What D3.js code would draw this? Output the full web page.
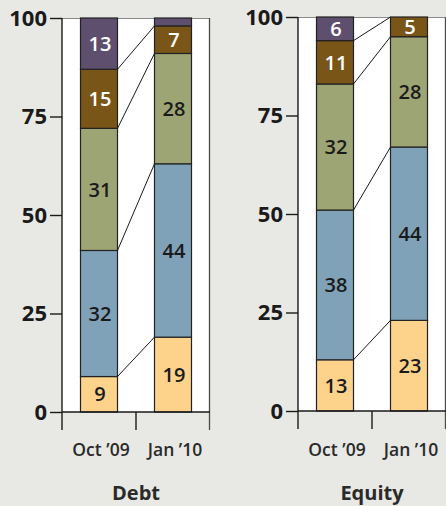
<!DOCTYPE html>
<html>
<head>
<meta charset="utf-8">
<script src="https://cdn.jsdelivr.net/npm/d3@7"></script>
<style>
  html, body { margin: 0; padding: 0; background: #e8e8e4; }
  svg { display: block; }
  text { font-family: "Open Sans", "Noto Sans", sans-serif; font-weight: 600; fill: #1a1a1a; }
</style>
</head>
<body>
<svg id="chart" width="446" height="506"></svg>
<script>
// Periods on the x axis of each panel
const periods = ["Oct \u201909", "Jan \u201910"];
// Panel titles
const panelNames = ["Debt", "Equity"];
// Stacked shares (bottom to top) for each period, in percent
const debtValues = [
  [9, 32, 31, 15, 13],
  [19, 44, 28, 7, 2]
];
const equityValues = [
  [13, 38, 32, 11, 6],
  [23, 44, 28, 5, 0]
];
// y-axis tick values
const yTicks = [0, 25, 50, 75, 100];
// Segment fills, bottom to top, and the label colour on each
const segmentColors = ["#fdd28b", "#7fa2b8", "#9ea574", "#7a5518", "#5e4f6e"];
const labelColors = ["#1a1a1a", "#1a1a1a", "#1a1a1a", "#ffffff", "#ffffff"];

const svg = d3.select("#chart");

const panels = [
  { name: panelNames[0], values: debtValues, left: 62, top: 18, bottom: 412 },
  { name: panelNames[1], values: equityValues, left: 298, top: 17, bottom: 411 }
];
const plotWidth = 148;
const tickBelow = 18;

panels.forEach(p => {
  const g = svg.append("g").attr("transform", `translate(${p.left},0)`);

  const x = d3.scaleBand().domain(periods).range([0, plotWidth])
    .paddingInner(0.5).paddingOuter(0.25);
  const y = d3.scaleLinear().domain([0, 100]).range([p.bottom, p.top]);

  // white plot area
  g.append("rect")
    .attr("x", 0).attr("y", p.top)
    .attr("width", plotWidth).attr("height", p.bottom - p.top)
    .attr("fill", "#ffffff");

  // top and right frame lines
  g.append("line")
    .attr("x1", 0).attr("x2", plotWidth)
    .attr("y1", p.top + 0.5).attr("y2", p.top + 0.5)
    .attr("stroke", "#8a8a8a").attr("stroke-width", 1);
  g.append("line")
    .attr("x1", plotWidth - 0.5).attr("x2", plotWidth - 0.5)
    .attr("y1", p.top).attr("y2", p.bottom + tickBelow)
    .attr("stroke", "#4a4a4a").attr("stroke-width", 1.3);

  // stacked segments
  const stacks = p.values.map(vals => {
    let acc = 0;
    return vals.map(v => { const s = { y0: acc, y1: acc + v, v }; acc += v; return s; });
  });

  // connector lines between matching segment boundaries
  const [a, b] = stacks;
  for (let i = 0; i < a.length - 1; i++) {
    g.append("line")
      .attr("x1", x(periods[0]) + x.bandwidth())
      .attr("y1", y(a[i].y1))
      .attr("x2", x(periods[1]))
      .attr("y2", y(b[i].y1))
      .attr("stroke", "#1a1a1a").attr("stroke-width", 1);
  }

  stacks.forEach((segs, pi) => {
    const bx = x(periods[pi]);
    segs.forEach((s, si) => {
      if (s.v <= 0) return;
      g.append("rect")
        .attr("x", bx).attr("y", y(s.y1))
        .attr("width", x.bandwidth()).attr("height", y(s.y0) - y(s.y1))
        .attr("fill", segmentColors[si])
        .attr("stroke", "#222").attr("stroke-width", 1.2);
      if (s.v >= 5) {
        g.append("text")
          .attr("x", bx + x.bandwidth() / 2 + 1)
          .attr("y", y((s.y0 + s.y1) / 2))
          .attr("dy", "0.36em")
          .attr("text-anchor", "middle")
          .attr("font-size", 20)
          .style("fill", labelColors[si])
          .text(s.v);
      }
    });
  });

  // y axis
  const yAxis = g.append("g")
    .call(d3.axisLeft(y).tickValues(yTicks).tickSize(12).tickPadding(3));
  yAxis.select(".domain").remove();
  yAxis.selectAll(".tick line").attr("stroke", "#1a1a1a").attr("stroke-width", 1.4);
  yAxis.selectAll(".tick text")
    .style("font-size", "22px")
    .style("font-family", "'Open Sans', sans-serif")
    .style("font-weight", 700)
    .style("fill", "#1a1a1a");

  g.append("line")
    .attr("x1", 0).attr("x2", 0)
    .attr("y1", p.top).attr("y2", p.bottom + tickBelow)
    .attr("stroke", "#1a1a1a").attr("stroke-width", 1.4);

  // x axis baseline with boundary ticks
  g.append("line")
    .attr("x1", 0).attr("x2", plotWidth)
    .attr("y1", p.bottom).attr("y2", p.bottom)
    .attr("stroke", "#1a1a1a").attr("stroke-width", 1.4);
  g.append("line")
    .attr("x1", x.step()).attr("x2", x.step())
    .attr("y1", p.bottom).attr("y2", p.bottom + tickBelow)
    .attr("stroke", "#1a1a1a").attr("stroke-width", 1.4);

  // period labels
  periods.forEach(per => {
    g.append("text")
      .attr("x", x(per) + x.bandwidth() / 2 + 2)
      .attr("y", 456)
      .attr("text-anchor", "middle")
      .attr("font-size", 17.5)
      .style("fill", "#2a2a2a")
      .text(per);
  });

  // panel title
  g.append("text")
    .attr("x", plotWidth / 2)
    .attr("y", 500)
    .attr("text-anchor", "middle")
    .attr("font-size", 20)
    .style("font-weight", 700)
    .style("fill", "#2a2a2a")
    .text(p.name);
});
</script>
</body>
</html>
